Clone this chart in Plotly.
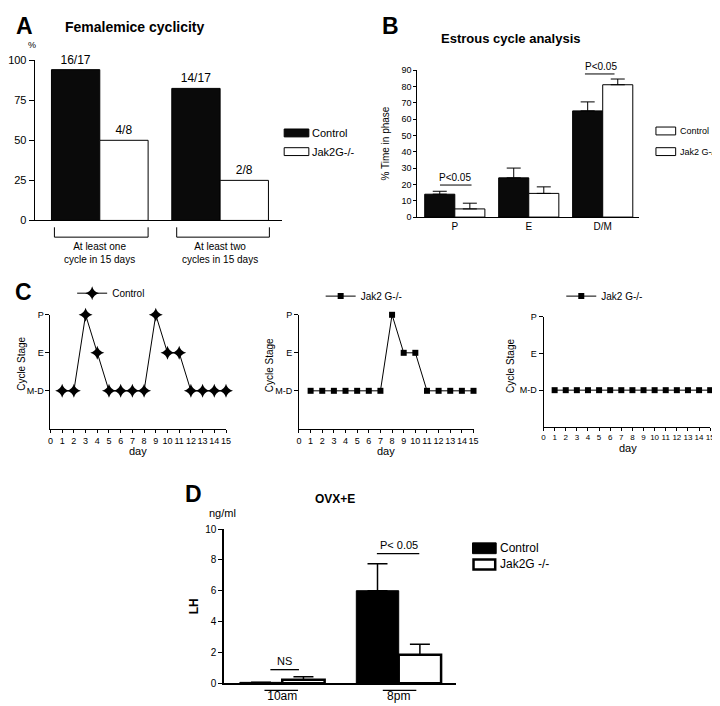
import plotly.graph_objects as go

W, H = 720, 706
FONT = "Liberation Sans, Arial, sans-serif"

# ---------------- data ----------------
# Panel A: female mice cyclicity (%)
a_groups = ["At least one<br>cycle in 15 days", "At least two<br>cycles in 15 days"]
a_control = [94.1, 82.4]
a_jak2 = [50.0, 25.0]
a_control_labels = ["16/17", "14/17"]
a_jak2_labels = ["4/8", "2/8"]
a_ticks = [0, 25, 50, 75, 100]

# Panel B: estrous cycle analysis (% time in phase)
b_phases = ["P", "E", "D/M"]
b_control = [14.0, 24.0, 65.0]
b_control_err = [1.8, 6.0, 5.5]
b_jak2 = [5.0, 14.5, 81.0]
b_jak2_err = [3.5, 4.0, 3.5]
b_ticks = [0, 10, 20, 30, 40, 50, 60, 70, 80, 90]

# Panel C: cycle stage per day
c_days = [1, 2, 3, 4, 5, 6, 7, 8, 9, 10, 11, 12, 13, 14, 15]
c_stages = ["M-D", "E", "P"]
c_control = ["M-D", "M-D", "P", "E", "M-D", "M-D", "M-D", "M-D",
             "P", "E", "E", "M-D", "M-D", "M-D", "M-D"]
c_jak2_a = ["M-D", "M-D", "M-D", "M-D", "M-D", "M-D", "M-D", "P",
            "E", "E", "M-D", "M-D", "M-D", "M-D", "M-D"]
c_jak2_b = ["M-D", "M-D", "M-D", "M-D", "M-D", "M-D", "M-D", "M-D",
            "M-D", "M-D", "M-D", "M-D", "M-D", "M-D", "M-D"]
c_day_ticks = [0, 1, 2, 3, 4, 5, 6, 7, 8, 9, 10, 11, 12, 13, 14, 15]

# Panel D: LH (ng/ml), OVX+E
d_times = ["10am", "8pm"]
d_control = [0.05, 6.0]
d_control_err = [0.0, 1.75]
d_jak2 = [0.22, 1.85]
d_jak2_err = [0.2, 0.68]
d_ticks = [0, 2, 4, 6, 8, 10]


# ---------------- helpers ----------------
def px(x):
    return x / W


def py(y):
    return 1 - y / H


def axis(**kw):
    d = dict(showline=True, linecolor="black", linewidth=1, showgrid=False,
             zeroline=False, ticks="outside", ticklen=4, tickcolor="black",
             tickwidth=1, tickfont=dict(family=FONT, size=10, color="black"),
             fixedrange=True)
    d.update(kw)
    return d


annotations = []
shapes = []


def ann(text, x, y, size=10, bold=False, xanchor="center", yanchor="middle",
        angle=0, xref="paper", yref="paper", xshift=0):
    if bold:
        text = "<b>" + text + "</b>"
    annotations.append(dict(
        text=text, x=x if xref != "paper" else px(x),
        y=y if yref != "paper" else py(y), xref=xref, yref=yref,
        xanchor=xanchor, yanchor=yanchor, textangle=angle, showarrow=False,
        xshift=xshift, font=dict(family=FONT, size=size, color="black")))


def line(x0, y0, x1, y1, w=1):
    shapes.append(dict(type="line", xref="paper", yref="paper",
                       x0=px(x0), y0=py(y0), x1=px(x1), y1=py(y1),
                       line=dict(color="black", width=w)))


def rect(x0, y0, x1, y1, fill, w=1):
    shapes.append(dict(type="rect", xref="paper", yref="paper",
                       x0=px(x0), y0=py(y0), x1=px(x1), y1=py(y1),
                       fillcolor=fill, line=dict(color="black", width=w)))


fig = go.Figure()

# ---------------- Panel A ----------------
wa = 0.4016
fig.add_trace(go.Bar(x=a_groups, y=a_control, xaxis="x", yaxis="y",
                     width=wa, offset=-wa, marker=dict(color="#0a0a0a", line=dict(color="black", width=1)),
                     text=a_control_labels, textposition="outside", textangle=0,
                     textfont=dict(family=FONT, size=12, color="black"),
                     cliponaxis=False, showlegend=False, name="Control"))
fig.add_trace(go.Bar(x=a_groups, y=a_jak2, xaxis="x", yaxis="y",
                     width=wa, offset=0, marker=dict(color="white", line=dict(color="black", width=1)),
                     text=a_jak2_labels, textposition="outside", textangle=0,
                     textfont=dict(family=FONT, size=12, color="black"),
                     cliponaxis=False, showlegend=False, name="Jak2G-/-"))

ann("A", 12, 12, size=23, bold=True)
ann("Femalemice cyclicity", 124, 13, size=14, bold=True)
ann("%", 19, 32, size=9)
# brackets under the groups
for (x0, x1) in [(42, 137), (166, 260)]:
    line(x0, 217, x0, 227)
    line(x1, 217, x1, 227)
    line(x0, 227, x1, 227)
for g in a_groups:
    ann(g, g, 243, size=10, xref="x", yref="paper")
# legend A
rect(275, 117, 300, 125, "#0a0a0a")
rect(275, 136, 300, 144, "white")
ann("Control", 301, 121, size=11, xanchor="left")
ann("Jak2G-/-", 301, 140, size=11, xanchor="left")

# ---------------- Panel B ----------------
wb = 0.4067
fig.add_trace(go.Bar(x=b_phases, y=b_control, xaxis="x2", yaxis="y2",
                     width=wb, offset=-wb, marker=dict(color="#0a0a0a", line=dict(color="black", width=1)),
                     error_y=dict(type="data", array=b_control_err, arrayminus=[0, 0, 0],
                                  symmetric=False, color="black", thickness=1, width=7),
                     showlegend=False, name="Control"))
fig.add_trace(go.Bar(x=b_phases, y=b_jak2, xaxis="x2", yaxis="y2",
                     width=wb, offset=0, marker=dict(color="white", line=dict(color="black", width=1)),
                     error_y=dict(type="data", array=b_jak2_err, arrayminus=[0, 0, 0],
                                  symmetric=False, color="black", thickness=1, width=7),
                     showlegend=False, name="Jak2 G-/-"))
ann("B", 383, 12, size=23, bold=True)
ann("Estrous cycle analysis", 505, 25, size=13, bold=True)
ann("% Time in phase", 378, 132, size=10, angle=-90)
line(433, 174, 465, 174)
ann("P<0.05", 448, 166, size=10)
line(580, 61, 610, 61)
ann("P<0.05", 596, 53, size=10)
rect(652, 115, 672, 123, "white")
rect(652, 136, 672, 144, "white")
ann("Control", 674, 119, size=9, xanchor="left")
ann("Jak2 G-/-", 674, 140, size=9, xanchor="left")

# ---------------- Panel C ----------------
fig.add_trace(go.Scatter(x=c_days, y=c_control, xaxis="x3", yaxis="y3",
                         mode="lines+markers", line=dict(color="black", width=1),
                         marker=dict(symbol="star-diamond", size=10, color="black"),
                         cliponaxis=False, name="Control", legend="legend"))
fig.add_trace(go.Scatter(x=c_days, y=c_jak2_a, xaxis="x4", yaxis="y4",
                         mode="lines+markers", line=dict(color="black", width=1),
                         marker=dict(symbol="square", size=6, color="black"),
                         cliponaxis=False, name="Jak2 G-/-", legend="legend2"))
fig.add_trace(go.Scatter(x=c_days, y=c_jak2_b, xaxis="x5", yaxis="y5",
                         mode="lines+markers", line=dict(color="black", width=1),
                         marker=dict(symbol="square", size=6, color="black"),
                         cliponaxis=False, name="Jak2 G-/-", legend="legend3"))
ann("C", 11, 283, size=23, bold=True)
for (xc, yc) in [(9, 356), (261, 357), (505, 358)]:
    ann("Cycle Stage", xc, yc, size=10, angle=-90)
for (xc, yc) in [(127, 445), (378, 445), (624, 442)]:
    ann("day", xc, yc, size=11)

# ---------------- Panel D ----------------
wd = 0.364
fig.add_trace(go.Bar(x=d_times, y=d_control, xaxis="x6", yaxis="y6",
                     width=wd, offset=-wd, marker=dict(color="black", line=dict(color="black", width=1)),
                     error_y=dict(type="data", array=d_control_err, arrayminus=[0, 0],
                                  symmetric=False, color="black", thickness=1.5, width=10),
                     showlegend=False, name="Control"))
fig.add_trace(go.Bar(x=d_times, y=d_jak2, xaxis="x6", yaxis="y6",
                     width=wd, offset=0, marker=dict(color="white", line=dict(color="black", width=2.5)),
                     error_y=dict(type="data", array=d_jak2_err, arrayminus=[0, 0],
                                  symmetric=False, color="black", thickness=1.5, width=10),
                     showlegend=False, name="Jak2G -/-"))
ann("D", 183, 488, size=23, bold=True)
ann("OVX+E", 327, 493, size=12, bold=True)
ann("ng/ml", 212, 508, size=11)
ann("LH", 183, 602, size=12, bold=True, angle=-90)
line(261, 667, 290, 667, 1.3)
ann("NS", 275, 658, size=11)
line(369, 549, 412, 549, 1.3)
ann("P&lt; 0.05", 391, 540, size=11)
line(255, 688, 289, 688, 1.3)
line(375, 688, 409, 688, 1.3)
rect(466, 538, 490, 549, "black")
rect(467, 555, 489, 565, "white", w=2.5)
ann("Control", 492, 543, size=12, xanchor="left")
ann("Jak2G -/-", 492, 560, size=12, xanchor="left")

# ---------------- layout ----------------
legend_common = dict(xanchor="left", yanchor="middle", bgcolor="rgba(0,0,0,0)",
                     font=dict(family=FONT, size=10, color="black"),
                     itemwidth=30, borderwidth=0)

cx_font = dict(family=FONT, size=9, color="black")

fig.update_layout(
    width=W, height=H, autosize=False,
    margin=dict(l=0, r=0, t=0, b=0, pad=0),
    paper_bgcolor="white", plot_bgcolor="white",
    font=dict(family=FONT, color="black"),
    barmode="overlay", showlegend=True,
    legend=dict(x=px(60), y=py(284), **legend_common),
    legend2=dict(x=px(312), y=py(287), **legend_common),
    legend3=dict(x=px(556), y=py(287), **legend_common),
    xaxis=axis(domain=[px(22), px(273)], range=[-0.541, 1.516], type="category",
               showticklabels=False, ticks="", anchor="y"),
    yaxis=axis(domain=[py(210), py(47)], range=[0, 100], tickvals=a_ticks,
               ticklen=5, tickfont=dict(family=FONT, size=11, color="black"), anchor="x"),
    xaxis2=axis(domain=[px(410), px(635)], range=[-0.507, 2.493], type="category",
                ticks="", anchor="y2", tickfont=dict(family=FONT, size=10, color="black")),
    yaxis2=axis(domain=[py(206.6), py(57)], range=[0, 90], tickvals=b_ticks, ticklen=3,
                tickfont=dict(family=FONT, size=9, color="black"), anchor="x2"),
    xaxis3=axis(domain=[px(38), px(216)], range=[0, 15], tickvals=c_day_ticks, ticklen=3,
                tickangle=0, tickfont=cx_font, anchor="y3"),
    yaxis3=axis(domain=[py(422), py(306)], type="category", categoryarray=c_stages,
                range=[-1, 2], ticklen=4, tickfont=cx_font, anchor="x3"),
    xaxis4=axis(domain=[px(290), px(467)], range=[0, 15], tickvals=c_day_ticks, ticklen=3,
                tickangle=0, tickfont=cx_font, anchor="y4"),
    yaxis4=axis(domain=[py(422), py(306)], type="category", categoryarray=c_stages,
                range=[-1, 2], ticklen=4, tickfont=cx_font, anchor="x4"),
    xaxis5=axis(domain=[px(538), px(707)], range=[0, 15], tickvals=c_day_ticks, ticklen=3,
                tickangle=0, tickfont=dict(family=FONT, size=8, color="black"), anchor="y5"),
    yaxis5=axis(domain=[py(420), py(308)], type="category", categoryarray=c_stages,
                range=[-1, 2], ticklen=4, tickfont=cx_font, anchor="x5"),
    xaxis6=axis(domain=[px(214), px(449)], range=[-0.5, 1.49], type="category",
                ticks="", ticklabelstandoff=1, linewidth=1.5, anchor="y6",
                tickfont=dict(family=FONT, size=12, color="black")),
    yaxis6=axis(domain=[py(680.7), py(524)], range=[0, 10], tickvals=d_ticks,
                linewidth=1.5, tickfont=dict(family=FONT, size=10, color="black"), anchor="x6"),
    annotations=annotations,
    shapes=shapes,
)

fig.write_html("out.html")
